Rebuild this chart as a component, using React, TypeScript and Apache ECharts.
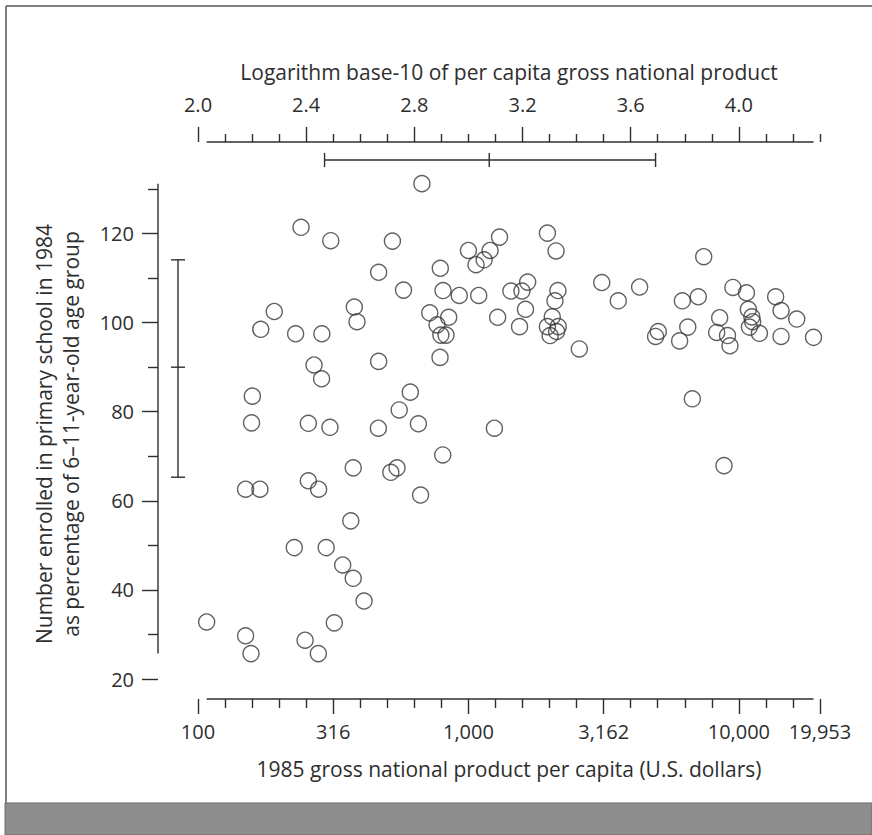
import React, { useEffect, useRef } from "react";
import * as echarts from "echarts";

// log10 of 1985 GNP per capita (US$)
const logGnp = [
  2.381, 2.491, 2.719, 2.668, 2.76, 2.282, 2.232, 2.361, 2.458, 2.578,
  2.588, 2.668, 2.429, 2.457, 2.201, 2.198, 2.408, 2.488, 2.667, 2.744,
  2.785, 2.815, 2.574, 2.713, 2.736, 2.176, 2.229, 2.408, 2.446, 2.565,
  2.356, 2.474, 2.535, 2.574, 2.614, 2.032, 2.504, 2.176, 2.196, 2.396,
  2.445, 2.823, 2.905, 3.096, 2.828, 2.896, 3.0, 3.028, 3.058, 3.08,
  3.115, 3.292, 3.324, 2.906, 2.966, 3.038, 2.857, 2.927, 2.884, 2.898,
  2.917, 2.895, 3.108, 3.157, 3.219, 3.198, 3.211, 3.189, 3.331, 3.32,
  3.31, 3.292, 3.332, 3.302, 3.326, 3.41, 3.493, 3.554, 3.633, 3.87,
  3.791, 3.85, 3.702, 3.692, 3.811, 3.781, 3.828, 3.929, 3.918, 3.958,
  3.967, 3.978, 4.028, 4.035, 4.048, 4.051, 4.039, 4.076, 4.136, 4.156,
  4.214, 4.156, 4.276, 3.945,
];

// primary-school enrolment, % of 6-11-year-old age group (1984)
const enrolled = [
  121.4, 118.4, 118.3, 111.3, 107.3, 102.5, 98.5, 97.5, 97.5, 103.5,
  100.2, 91.3, 90.5, 87.4, 83.5, 77.5, 77.4, 76.5, 76.3, 80.4,
  84.4, 77.3, 67.4, 66.4, 67.4, 62.6, 62.6, 64.5, 62.6, 55.5,
  49.5, 49.5, 45.6, 42.6, 37.5, 32.8, 32.6, 29.7, 25.7, 28.7,
  25.7, 61.3, 70.3, 76.3, 131.2, 112.2, 116.2, 113.0, 114.1, 116.2,
  119.2, 120.1, 116.1, 107.2, 106.1, 106.1, 102.2, 101.2, 99.5, 97.2,
  97.2, 92.2, 101.2, 107.1, 109.1, 107.1, 103.0, 99.1, 107.2, 104.9,
  101.3, 99.1, 99.1, 97.1, 98.0, 94.1, 109.0, 104.9, 108.0, 114.8,
  104.9, 105.8, 98.0, 96.9, 99.0, 95.9, 82.9, 101.1, 97.8, 97.1,
  94.8, 107.9, 106.7, 103.0, 101.3, 100.2, 99.0, 97.6, 105.8, 102.7,
  100.8, 96.9, 96.7, 67.9,
];

const topTickValues = [2.0, 2.4, 2.8, 3.2, 3.6, 4.0];
const topMinorTicks = [2.1, 2.2, 2.3, 2.5, 2.6, 2.7, 2.9, 3.0, 3.1, 3.3, 3.4, 3.5, 3.7, 3.8, 3.9, 4.1, 4.2, 4.3];
const bottomTickValues = [2.0, 2.5, 3.0, 3.5, 4.0, 4.3];
const bottomMinorTicks = [2.1, 2.2, 2.3, 2.4, 2.6, 2.7, 2.8, 2.9, 3.1, 3.2, 3.3, 3.4, 3.6, 3.7, 3.8, 3.9, 4.1, 4.2];
const yMajorTicks = [20, 40, 60, 80, 100, 120];
const yMinorTicks = [30, 50, 70, 90, 110, 130];

// mean - 1sd, mean, mean + 1sd
const xRangeBar = [2.468, 3.077, 3.692];
const yRangeBar = [65.3, 90.0, 114.1];

const X_MIN = 2.0;
const X_MAX = 4.3;
const Y_MIN = 20;
const Y_MAX = 130;

const FONT = "'Open Sans', sans-serif";
const INK = "#2e2e2e";
const FS = 20;
const TITLE_FS = 21;

export default function App() {
  const ref = useRef<HTMLDivElement>(null);

  useEffect(() => {
    if (!ref.current) return;
    const chart = echarts.init(ref.current, undefined, { renderer: "svg" });

    const points = logGnp.map((x, i) => [x, enrolled[i]]);
    const dataXMin = Math.min(...logGnp);
    const dataXMax = Math.max(...logGnp);
    const dataYMin = Math.min(...enrolled);
    const dataYMax = Math.max(...enrolled);

    const lineStyle = { stroke: INK, lineWidth: 1.4 };

    const tickStyle = { color: INK, width: 1.4 };
    const baseX = {
      type: "value",
      min: X_MIN,
      max: X_MAX,
      splitLine: { show: false },
      axisLine: { show: false },
    };
    const baseY = {
      type: "value",
      min: Y_MIN,
      max: Y_MAX,
      splitLine: { show: false },
      axisLine: { show: false },
      position: "left",
      offset: 40,
    };

    const fmtDollar = (v: number) =>
      Math.round(Math.pow(10, v)).toLocaleString("en-US");

    chart.setOption({
      animation: false,
      backgroundColor: "#ffffff",
      textStyle: { fontFamily: FONT, color: INK },
      grid: {
        left: 198,
        right: 52,
        top: 189,
        bottom: 156,
        outerBoundsMode: "none",
      },
      xAxis: [
        {
          ...baseX,
          position: "bottom",
          offset: 20,
          axisTick: {
            customValues: bottomTickValues,
            length: 15,
            lineStyle: tickStyle,
          },
          axisLabel: {
            customValues: bottomTickValues,
            margin: 22,
            formatter: fmtDollar,
            fontFamily: FONT,
            fontSize: FS,
            color: INK,
          },
          name: "1985 gross national product per capita (U.S. dollars)",
          nameLocation: "middle",
          nameGap: 59,
          nameTextStyle: { fontFamily: FONT, fontSize: TITLE_FS, color: INK },
        },
        {
          ...baseX,
          position: "top",
          offset: 47,
          axisTick: {
            customValues: topTickValues,
            length: 15,
            lineStyle: tickStyle,
          },
          axisLabel: {
            customValues: topTickValues,
            margin: 28,
            formatter: (v: number) => v.toFixed(1),
            fontFamily: FONT,
            fontSize: FS,
            color: INK,
          },
          name: "Logarithm base-10 of per capita gross national product",
          nameLocation: "middle",
          nameGap: 60,
          nameTextStyle: { fontFamily: FONT, fontSize: TITLE_FS, color: INK },
        },
        {
          ...baseX,
          position: "top",
          offset: 47,
          axisTick: {
            customValues: topMinorTicks,
            length: 8,
            lineStyle: tickStyle,
          },
          axisLabel: { show: false },
        },
        {
          ...baseX,
          position: "bottom",
          offset: 20,
          axisTick: {
            customValues: bottomMinorTicks,
            length: 9,
            lineStyle: tickStyle,
          },
          axisLabel: { show: false },
        },
      ],
      yAxis: [
        {
          ...baseY,
          axisTick: {
            customValues: yMajorTicks,
            length: 16,
            lineStyle: tickStyle,
          },
          axisLabel: {
            customValues: yMajorTicks,
            margin: 24,
            fontFamily: FONT,
            fontSize: FS,
            color: INK,
          },
          name:
            "Number enrolled in primary school in 1984\nas percentage of 6\u201311-year-old age group",
          nameLocation: "middle",
          nameRotate: 90,
          nameGap: 74,
          nameTextStyle: {
            fontFamily: FONT,
            fontSize: TITLE_FS,
            color: INK,
            lineHeight: 27,
          },
        },
        {
          ...baseY,
          axisTick: {
            customValues: yMinorTicks,
            length: 10,
            lineStyle: tickStyle,
          },
          axisLabel: { show: false },
        },
      ],
      graphic: [
        {
          type: "line",
          shape: { x1: 6, y1: 6, x2: 872, y2: 6 },
          style: { stroke: "#555", lineWidth: 1.5 },
          silent: true,
        },
        {
          type: "line",
          shape: { x1: 6, y1: 6, x2: 6, y2: 805 },
          style: { stroke: "#555", lineWidth: 1.5 },
          silent: true,
        },
        {
          type: "rect",
          shape: { x: 5, y: 803, width: 867, height: 32 },
          style: { fill: "#8e8e8e", stroke: "#6a6a6a", lineWidth: 1 },
          silent: true,
        },
      ],
      series: [
        {
          type: "scatter",
          xAxisIndex: 0,
          yAxisIndex: 0,
          data: points,
          clip: false,
          symbol: "circle",
          symbolSize: 16,
          itemStyle: {
            color: "rgba(0,0,0,0)",
            borderColor: "#3a3a3a",
            borderWidth: 1.4,
          },
          silent: true,
        },
        {
          type: "custom",
          xAxisIndex: 0,
          yAxisIndex: 0,
          clip: false,
          silent: true,
          data: [[X_MIN, Y_MIN]],
          renderItem: (_params: any, api: any) => {
            const c = (x: number, y: number) => api.coord([x, y]);
            const left = c(X_MIN, Y_MIN)[0];
            const bottom = c(X_MIN, Y_MIN)[1];
            const top = c(X_MIN, Y_MAX)[1];
            const yLineX = left - 40;
            const bLineY = bottom + 20;
            const tLineY = top - 47;
            const yBarX = left - 20;
            const xBarY = top - 29;
            const cap = 7;
            const seg = (x1: number, y1: number, x2: number, y2: number) => ({
              type: "line",
              shape: { x1, y1, x2, y2 },
              style: lineStyle,
            });
            const xs = xRangeBar.map((v) => c(v, Y_MIN)[0]);
            const ys = yRangeBar.map((v) => c(X_MIN, v)[1]);
            return {
              type: "group",
              children: [
                // range-frame axis lines
                seg(yLineX, c(X_MIN, dataYMin)[1], yLineX, c(X_MIN, dataYMax)[1]),
                seg(c(dataXMin, Y_MIN)[0], bLineY, c(dataXMax, Y_MIN)[0], bLineY),
                seg(c(dataXMin, Y_MIN)[0], tLineY, c(dataXMax, Y_MIN)[0], tLineY),
                // x range bar
                seg(xs[0], xBarY, xs[2], xBarY),
                ...xs.map((x) => seg(x, xBarY - cap, x, xBarY + cap)),
                // y range bar
                seg(yBarX, ys[0], yBarX, ys[2]),
                ...ys.map((y) => seg(yBarX - cap, y, yBarX + cap, y)),
              ],
            };
          },
        },
      ],
    });

    return () => chart.dispose();
  }, []);

  return (
    <div
      ref={ref}
      style={{ position: "absolute", left: 0, top: 0, width: 872, height: 835 }}
    />
  );
}
